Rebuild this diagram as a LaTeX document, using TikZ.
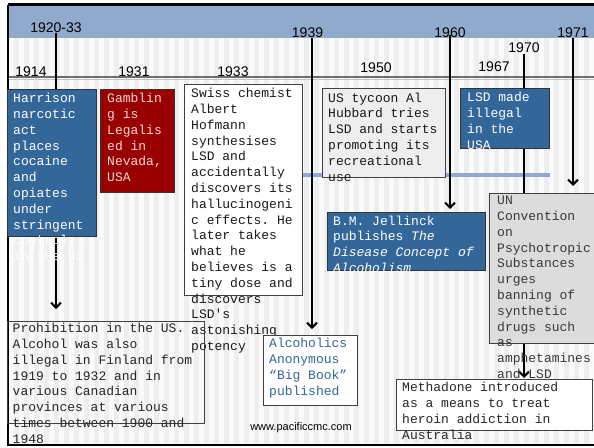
\documentclass[tikz,border=0pt]{standalone}
\usepackage{fontspec}
\setmainfont{Liberation Sans}
\setmonofont{Liberation Mono}
\usetikzlibrary{arrows.meta,calc}

\definecolor{bandblue}{RGB}{143,170,204}
\definecolor{boxblue}{RGB}{51,102,153}
\definecolor{boxred}{RGB}{153,0,0}
\definecolor{pinktext}{RGB}{245,215,215}
\definecolor{paleface}{RGB}{238,238,238}
\definecolor{greyface}{RGB}{220,220,220}
\definecolor{stripedark}{RGB}{238,238,238}
\definecolor{stripelight}{RGB}{250,250,250}
\definecolor{railgrey}{RGB}{110,110,110}

\begin{document}
\begin{tikzpicture}[x=1pt,y=1pt,
  year/.style={font=\fontsize{14}{16}\selectfont, inner sep=0},
  web/.style={font=\fontsize{11}{13}\selectfont, inner sep=0},
  panel/.style={anchor=north west, inner sep=0, line width=1pt, draw=black!75},
  bluepanel/.style={panel, fill=boxblue, draw=black!80},
  redpanel/.style={panel, fill=boxred, draw=black!80},
  whitepanel/.style={panel, fill=white},
  palepanel/.style={panel, fill=paleface},
  greypanel/.style={panel, fill=greyface},
  openpanel/.style={panel},
  note/.style={anchor=north west, inner sep=0, align=left,
    font=\ttfamily\fontsize{13}{15.8}\selectfont, execute at begin node=\strut},
  conn/.style={line width=2pt, -{Straight Barb[length=5pt,width=10pt]}},
]
\useasboundingbox (0,0) rectangle (594,-447);
\fill[white] (0,0) rectangle (594,-447);

% striped backdrop and the blue title band
\fill[stripedark] (9,-38) rectangle (594,-444);
\foreach \s in {0,...,58}
  \fill[stripelight] (9+\s*10,-38) rectangle ++(5,-406);
\fill[bandblue] (7,-6) rectangle (594,-38);

% frame
\draw[line width=2.5pt] (8,-4.5) -- (594,-4.5);
\draw[line width=2.5pt] (8,-4.5) -- (8,-446);
\draw[line width=2pt] (8,-445) -- (594,-445);

% time rail and the light guide line
\draw[railgrey, line width=2pt] (9,-77) -- (594,-77);
\draw[gray!45, line width=1.5pt] (9,-79.5) -- (594,-79.5);
\draw[bandblue, line width=4pt] (290,-175) -- (550,-175);

% year labels
\node[year] (y1920) at (56,-27.5) {1920-33};
\node[year] (y1914) at (31,-72) {1914};
\node[year] (y1931) at (134,-72) {1931};
\node[year] (y1933) at (233,-72) {1933};
\node[year] (y1939) at (307.5,-33) {1939};
\node[year] (y1950) at (376,-67.5) {1950};
\node[year] (y1960) at (450,-33) {1960};
\node[year] (y1967) at (494,-67) {1967};
\node[year] (y1970) at (524,-47.5) {1970};
\node[year] (y1971) at (573,-33) {1971};

% connector tips
\coordinate (t1920) at (56,-309);
\coordinate (t1939) at (312,-329);
\coordinate (t1960) at (450,-209);
\coordinate (t1970) at (524,-378);
\coordinate (t1971) at (573,-186);

\draw[conn] (y1920.south) -- (t1920);
\draw[conn] (y1939.south -| t1939) -- (t1939);
\draw[conn] ([yshift=3pt]y1960.south -| t1960) -- (t1960);
\draw[conn] ([yshift=-1pt]y1970.south -| t1970) -- (t1970);
\draw[conn] (y1971.south -| t1971) -- (t1971);

% event panels
\node[bluepanel, minimum width=89, minimum height=147] (harrison) at (7,-89) {};
\node[note, text=white] at ([xshift=6pt,yshift=-4pt]harrison.north west)
  {Harrison\\narcotic\\act\\places\\cocaine\\and\\opiates\\under\\stringent\\control\\in the US};

\node[redpanel, minimum width=74, minimum height=103] (gambling) at (100,-89) {};
\node[note, text=pinktext] at ([xshift=7pt,yshift=-4pt]gambling.north west)
  {Gamblin\\g is\\Legalis\\ed in\\Nevada,\\USA};

\node[whitepanel, minimum width=118, minimum height=211] (swiss) at (184,-84) {};
\node[note, text=black!90] at ([xshift=7pt,yshift=-4pt]swiss.north west)
  {Swiss chemist\\Albert\\Hofmann\\synthesises\\LSD and\\accidentally\\discovers its\\hallucinogeni\\c effects. He\\later takes\\what he\\believes is a\\tiny dose and\\discovers\\LSD's\\astonishing\\potency};

\node[palepanel, minimum width=123, minimum height=89] (tycoon) at (322,-88) {};
\node[note, text=black!90] at ([xshift=6pt,yshift=-4.5pt]tycoon.north west)
  {US tycoon Al\\Hubbard tries\\LSD and starts\\promoting its\\recreational\\use};

\node[bluepanel, minimum width=89, minimum height=60] (lsd) at (460,-88) {};
\node[note, text=white] at ([xshift=7pt,yshift=-4pt]lsd.north west)
  {LSD made\\illegal\\in the\\USA};

\node[bluepanel, minimum width=158, minimum height=58] (jellinck) at (327,-212) {};
\node[note, text=white] at ([xshift=6pt,yshift=-3.5pt]jellinck.north west)
  {B.M. Jellinck\\publishes \textit{The}\\\textit{Disease Concept of}\\\textit{Alcoholism}};

\node[greypanel, minimum width=110, minimum height=150] (un) at (489,-193) {};
\node[note, text=black!78] at ([xshift=8pt,yshift=-3pt]un.north west)
  {UN\\Convention\\on\\Psychotropic\\Substances\\urges\\banning of\\synthetic\\drugs such\\as\\amphetamines\\and LSD};

\node[whitepanel, minimum width=94, minimum height=70] (aa) at (263,-335) {};
\node[note, text=boxblue] at ([xshift=6pt,yshift=-3pt]aa.north west)
  {Alcoholics\\Anonymous\\“Big Book”\\published};

\node[whitepanel, minimum width=196, minimum height=51] (methadone) at (396,-379) {};
\node[note, text=black!85] at ([xshift=6pt,yshift=-3pt]methadone.north west)
  {Methadone introduced\\as a means to treat\\heroin addiction in\\Australia};

\node[openpanel, minimum width=197, minimum height=102] (prohibition) at (7,-321) {};
\node[note, text=black!85] at ([xshift=5.5pt,yshift=-2pt]prohibition.north west)
  {Prohibition in the US.\\Alcohol was also\\illegal in Finland from\\1919 to 1932 and in\\various Canadian\\provinces at various\\times between 1900 and\\1948};

% footer
\node[web] (site) at (301,-428) {www.pacificcmc.com};
\end{tikzpicture}
\end{document}
